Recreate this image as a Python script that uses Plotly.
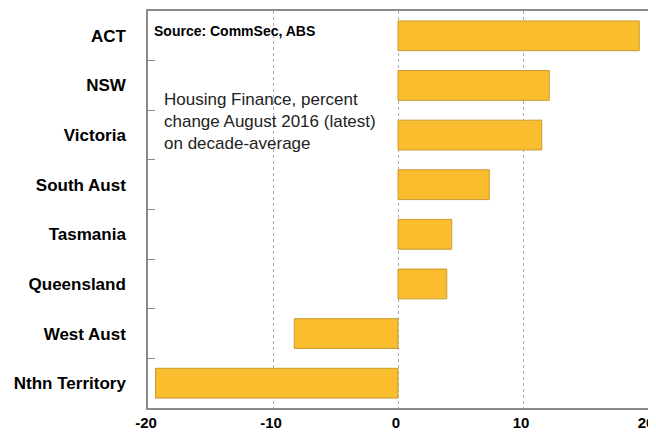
import plotly.graph_objects as go

states = ["ACT", "NSW", "Victoria", "South Aust", "Tasmania", "Queensland", "West Aust", "Nthn Territory"]
pct_change = [19.3, 12.1, 11.5, 7.3, 4.3, 3.9, -8.3, -19.4]
x_ticks = [-20, -10, 0, 10, 20]

FONT = "Liberation Sans Narrow, Arial Narrow, Liberation Sans, Arial, sans-serif"

fig = go.Figure(go.Bar(
    x=pct_change, y=states, orientation="h", width=0.6,
    marker=dict(color="#F9BD2E", line=dict(color="#C99A30", width=1)),
))

# page body has an 8px margin, so margins are offset accordingly
fig.update_layout(
    width=656, height=436,
    margin=dict(l=140, r=16, t=3, b=36, autoexpand=False),
    paper_bgcolor="white", plot_bgcolor="white",
    font=dict(family="Liberation Sans, Arial, sans-serif", color="black"),
    showlegend=False,
)
fig.update_xaxes(
    range=[-20, 20], tickvals=x_ticks, ticktext=[str(v) for v in x_ticks],
    tickfont=dict(size=15, family=FONT, weight="bold"),
    showgrid=True, gridcolor="#AAAAAA", griddash="dot", gridwidth=1,
    zeroline=False, showline=True, linecolor="#8A8A8A", linewidth=1.5, mirror=True,
    ticks="", automargin=False, ticklabelshift=-2,
)
fig.update_yaxes(
    autorange="reversed", tickson="boundaries", ticks="inside", ticklen=7,
    tickcolor="#8A8A8A", tickwidth=1,
    tickfont=dict(size=17, family=FONT, weight="bold"),
    showgrid=False, showline=True, linecolor="#8A8A8A", linewidth=1.5, mirror=True,
    ticklabelstandoff=17, automargin=False,
)
fig.add_annotation(
    xref="paper", yref="paper", x=0.008, y=0.975, xanchor="left", yanchor="top",
    text="<b>Source: CommSec, ABS</b>", showarrow=False,
    font=dict(size=14, family="Liberation Sans, Arial, sans-serif", color="black"),
)
fig.add_annotation(
    xref="paper", yref="paper", x=0.027, y=0.807, xanchor="left", yanchor="top", align="left",
    text="Housing Finance, percent<br>change August 2016 (latest)<br>on decade-average",
    showarrow=False,
    font=dict(size=17, family="Liberation Sans, Arial, sans-serif", color="#222222"),
)

fig.write_html("out.html")
